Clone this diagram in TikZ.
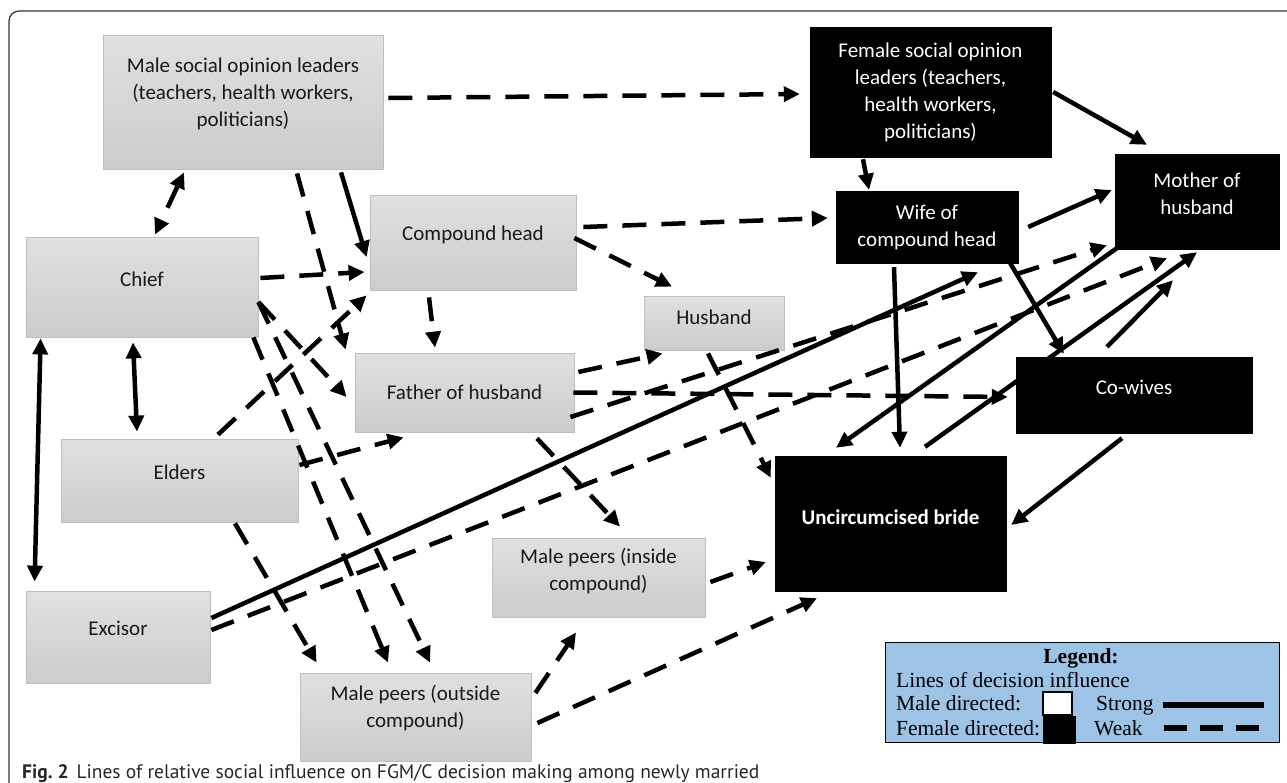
\documentclass[tikz,border=0pt]{standalone}
\usepackage{fontspec}
\setmainfont{Carlito}
\newfontfamily\legendfont{Liberation Serif}
\newfontfamily\captionfont{PT Sans}
\usetikzlibrary{arrows.meta}
\definecolor{legendblue}{RGB}{157,195,230}

\begin{document}
\begin{tikzpicture}[x=1pt, y=-1pt,
  >={Triangle[length=16pt,width=15pt]},
  malebox/.style={draw=gray!50, line width=0.8pt, top color=gray!24, bottom color=gray!40,
    text=black!90, align=center, inner sep=0pt, font=\fontsize{21}{27}\selectfont},
  femalebox/.style={draw=black, fill=black, text=white, align=center, inner sep=0pt,
    font=\fontsize{21}{27}\selectfont},
  strongline/.style={line width=4.5pt},
  weakline/.style={line width=4.5pt, dash pattern=on 24pt off 15pt},
  legtext/.style={anchor=base west, inner sep=0pt, font=\legendfont\fontsize{21.5}{25}\selectfont}]
  \useasboundingbox (0,0) rectangle (1287,782);
  \clip (0,0) rectangle (1287,782);
  % frame of the figure
  \draw[black!80, line width=1.2pt, rounded corners=10pt] (9,11) rectangle (1320,820);

  % male directed boxes
  \node[malebox, minimum width=280pt, minimum height=134pt, text depth=19pt] (maleop) at (243,102) {Male social opinion leaders\\(teachers, health workers,\\politicians)};
  \node[malebox, minimum width=232pt, minimum height=100pt, text depth=16pt] (chief) at (142,287) {Chief};
  \node[malebox, minimum width=206pt, minimum height=95pt, text depth=19pt] (comphead) at (473,242.5) {Compound head};
  \node[malebox, minimum width=219pt, minimum height=79pt] (father) at (464.5,392.5) {Father of husband};
  \node[malebox, minimum width=237pt, minimum height=83pt, text depth=17pt] (elders) at (179.5,480.5) {Elders};
  \node[malebox, minimum width=184pt, minimum height=92pt, text depth=18pt] (excisor) at (118,637) {Excisor};
  \node[malebox, minimum width=231pt, minimum height=88pt, text depth=21pt] (peersout) at (415.5,717) {Male peers (outside\\compound)};
  \node[malebox, minimum width=213pt, minimum height=79pt, text depth=16pt] (peersin) at (598.5,577.5) {Male peers (inside\\compound)};
  \node[malebox, minimum width=140pt, minimum height=54pt, text depth=12pt] (husband) at (714,323) {Husband};

  % female directed boxes
  \node[femalebox, minimum width=241pt, minimum height=130pt] (femop) at (930.5,92) {Female social opinion\\leaders (teachers,\\health workers,\\politicians)};
  \node[femalebox, minimum width=182pt, minimum height=72pt] (wife) at (927,227) {Wife of\\compound head};
  \node[femalebox, minimum width=164pt, minimum height=95pt, text depth=15pt] (mother) at (1197,201.5) {Mother of\\husband};
  \node[femalebox, minimum width=236pt, minimum height=76pt, text depth=16pt] (cowives) at (1134,395) {Co-wives};
  \node[femalebox, minimum width=231pt, minimum height=135pt, text depth=13pt] (bride) at (890.5,523.5) {\bfseries Uncircumcised bride};

  % weak lines
  \draw[weakline, ->] ([xshift=5pt,yshift=4pt]maleop.east) -- ([xshift=-10pt,yshift=-2pt]femop.west);
  \draw[weakline, <->] ([xshift=-59pt,yshift=-3pt]maleop.south) -- ([xshift=13pt,yshift=2pt]chief.north);
  \draw[weakline, ->] ([xshift=54pt,yshift=-4pt]maleop.south) -- ([xshift=-9pt,yshift=3pt]father.north west);
  \draw[weakline, ->] ([xshift=2pt,yshift=9pt]chief.east) -- ([xshift=-5pt,yshift=-29.5pt]comphead.west);
  \draw[weakline, ->] ([yshift=-15pt]chief.east) -- ([xshift=-8pt,yshift=-4.5pt]father.west);
  \draw[weakline, ->] ([yshift=-15pt]chief.east) -- ([xshift=14.5pt,yshift=10pt]peersout.north);
  \draw[weakline, ->] ([xshift=-5pt]chief.south east) -- ([xshift=-27.5pt,yshift=10pt]peersout.north);
  \draw[weakline, ->] ([xshift=55.5pt,yshift=-1pt]elders.south) -- ([xshift=17pt,yshift=10pt]peersout.north west);
  \draw[weakline, ->] ([xshift=38.5pt,yshift=4pt]elders.north) -- ([xshift=-3pt,yshift=-5pt]comphead.south west);
  \draw[weakline, ->] ([xshift=1pt,yshift=15.5pt]elders.east) -- ([xshift=49pt,yshift=-5pt]father.south west);
  \draw[weakline, ->] ([xshift=1pt,yshift=7pt]excisor.east) -- ([xshift=-30pt,yshift=-9pt]mother.south);
  \draw[weakline, ->] ([xshift=4pt,yshift=20.5pt]father.east) -- ([xshift=19pt,yshift=-3pt]husband.south west);
  \draw[weakline, ->] ([xshift=-1pt]father.east) -- ([xshift=-8pt,yshift=-2pt]cowives.west);
  \draw[weakline, ->] ([xshift=-4pt,yshift=-24.5pt]father.east) -- ([xshift=-8pt,yshift=4pt]mother.south west);
  \draw[weakline, ->] ([xshift=72.5pt,yshift=-6pt]father.south) -- ([xshift=21.5pt,yshift=11pt]peersin.north);
  \draw[weakline, ->] ([xshift=7pt,yshift=15.5pt]comphead.east) -- ([xshift=-8pt,yshift=9pt]wife.west);
  \draw[weakline, ->] ([xshift=-2pt,yshift=4.5pt]comphead.east) -- ([xshift=-42pt,yshift=9pt]husband.north);
  \draw[weakline, ->] ([xshift=-44pt,yshift=-7pt]comphead.south) -- ([xshift=-29.5pt,yshift=5pt]father.north);
  \draw[weakline, ->] ([xshift=-6pt,yshift=-3pt]husband.south) -- ([xshift=-4pt,yshift=-22pt]bride.north west);
  \draw[weakline, ->] ([xshift=5pt,yshift=-4.5pt]peersin.east) -- ([xshift=-9pt,yshift=-38.5pt]bride.west);
  \draw[weakline, ->] ([xshift=4pt,yshift=24pt]peersout.east) -- ([xshift=-22.5pt,yshift=-15pt]peersin.south);
  \draw[weakline, ->] ([xshift=6pt,yshift=-6pt]peersout.east) -- ([xshift=-73.5pt,yshift=-7pt]bride.south);

  % strong lines
  \draw[strongline, ->] ([xshift=98pt,yshift=-3pt]maleop.south) -- ([xshift=-3pt,yshift=-14.5pt]comphead.west);
  \draw[strongline, <->] ([xshift=-9pt,yshift=-5pt]chief.south) -- ([xshift=-42.5pt,yshift=7pt]elders.north);
  \draw[strongline, <->] ([xshift=15pt,yshift=-1pt]chief.south west) -- ([xshift=9pt,yshift=9pt]excisor.north west);
  \draw[strongline, ->] ([xshift=1pt,yshift=19pt]excisor.east) -- ([xshift=51pt,yshift=-9pt]wife.south);
  \draw[strongline, ->] ([xshift=-67.5pt,yshift=-2pt]femop.south) -- ([xshift=-58pt,yshift=1pt]wife.north);
  \draw[strongline, ->] ([xshift=2pt]femop.east) -- ([xshift=-50pt,yshift=9pt]mother.north);
  \draw[strongline, ->] ([xshift=10pt]wife.east) -- ([xshift=-3pt,yshift=11.5pt]mother.west);
  \draw[strongline, ->] ([xshift=-8pt]wife.south east) -- ([xshift=48pt,yshift=3pt]cowives.north west);
  \draw[strongline, ->] ([xshift=-33pt,yshift=-4pt]wife.south) -- ([xshift=9.5pt,yshift=8pt]bride.north);
  \draw[strongline, ->] ([xshift=2pt,yshift=1pt]mother.south west) -- ([xshift=-54.5pt,yshift=8pt]bride.north);
  \draw[strongline, ->] ([xshift=34.5pt,yshift=9pt]bride.north) -- ([yshift=-3pt]mother.south);
  \draw[strongline, ->] ([xshift=-27pt,yshift=10pt]cowives.north) -- ([xshift=-24pt,yshift=-31pt]mother.south);
  \draw[strongline, ->] ([xshift=-12pt,yshift=-5pt]cowives.south) -- ([xshift=5pt,yshift=-1.5pt]bride.east);

  % legend
  \node[draw=black, line width=1pt, fill=legendblue, minimum width=394pt, minimum height=100pt] (legend) at (1082,692) {};
  \node[legtext, anchor=base] (legtitle) at (1081,663) {\bfseries Legend:};
  \node[legtext] (leglines) at (896,687) {Lines of decision influence};
  \node[legtext] (legmale) at (896,710) {Male directed:};
  \node[legtext] (legfemale) at (896,735) {Female directed:};
  \node[legtext] (legstrong) at (1096,710) {Strong};
  \node[legtext] (legweak) at (1094,735) {Weak};
  \node[draw=black, line width=1.5pt, fill=white, minimum width=29pt, minimum height=23pt, inner sep=0pt] (malesq) at (1057.5,703.5) {};
  \node[draw=black, fill=black, minimum width=32pt, minimum height=27pt, inner sep=0pt] (femalesq) at (1059,729.5) {};
  \draw[line width=6pt] ([xshift=9pt]legstrong.east) -- ++(101,0);
  \draw[line width=6pt, dash pattern=on 23pt off 13pt] ([xshift=21pt]legweak.east) -- ++(96,0);

  % caption
  \node[anchor=base west, inner sep=0pt, text=black!85, font=\captionfont\fontsize{19.5}{24}\selectfont] (caption) at (22,778) {\textbf{Fig.~2}\hspace{8pt}Lines of relative social influence on FGM/C decision making among newly married};
\end{tikzpicture}
\end{document}
